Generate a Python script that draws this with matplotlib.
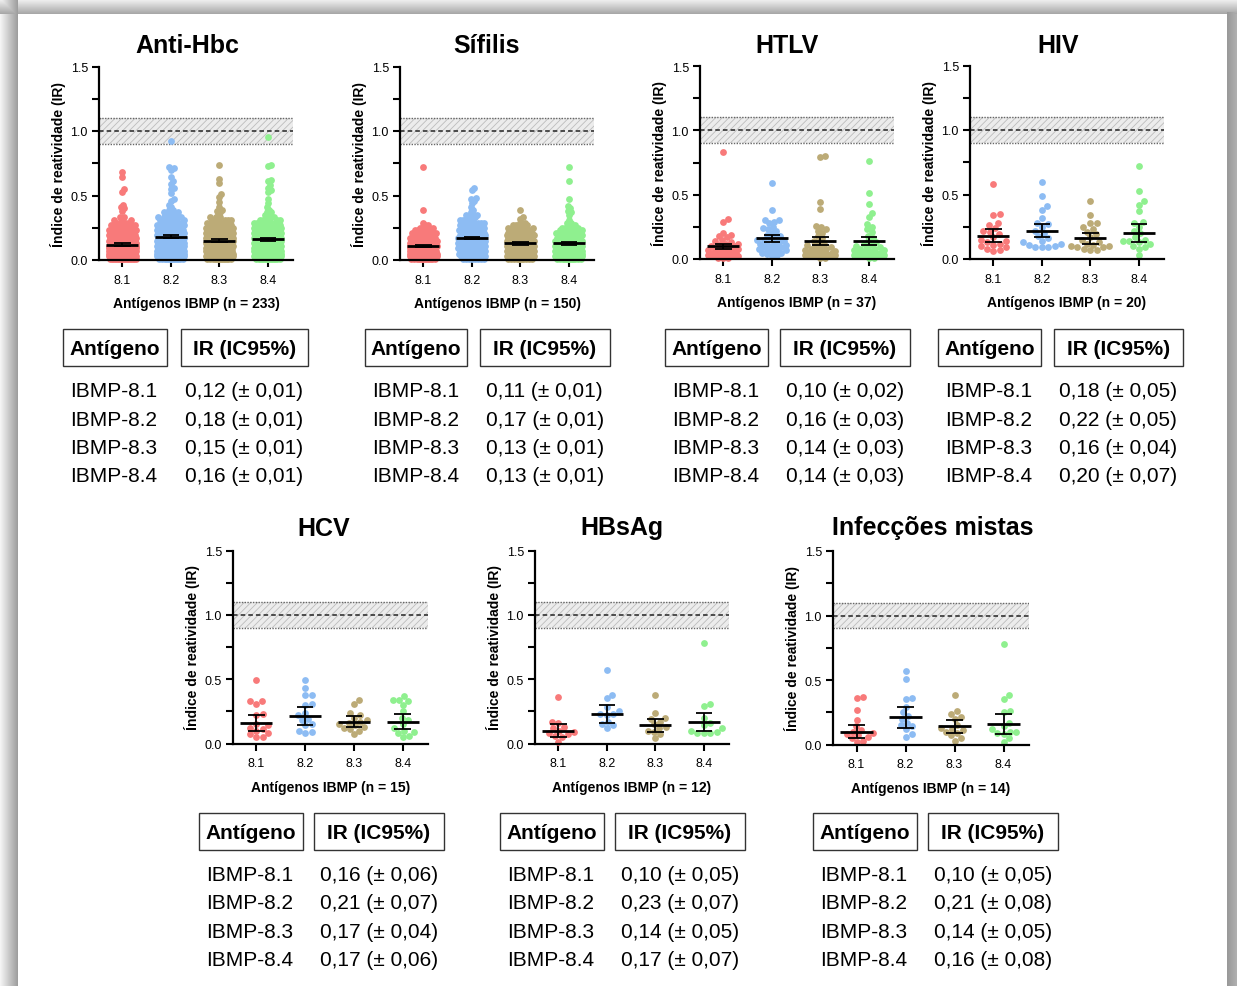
import numpy as np
import matplotlib
matplotlib.use("Agg")
import matplotlib.pyplot as plt
from matplotlib.patches import Rectangle

plt.rcParams['font.family'] = ['Liberation Sans', 'DejaVu Sans']
plt.rcParams['hatch.linewidth'] = 0.6

# ---------------- DATA ----------------
antigens = ['8.1', '8.2', '8.3', '8.4']
row_labels = ['IBMP-8.1', 'IBMP-8.2', 'IBMP-8.3', 'IBMP-8.4']

# Anti-Hbc (n=233): frequency table of the dense part + individual high points
hbc_levels = [0.01, 0.03, 0.05, 0.07, 0.09, 0.11, 0.13, 0.15, 0.17, 0.19, 0.21,
              0.23, 0.25, 0.27, 0.29, 0.31, 0.33, 0.35, 0.37, 0.39, 0.41, 0.43]
hbc_counts_81 = [18, 22, 24, 24, 22, 20, 18, 16, 13, 11, 9, 8, 6, 5, 4, 3, 2, 0, 0, 0, 0, 0]
hbc_counts_82 = [14, 15, 16, 17, 17, 17, 16, 15, 14, 13, 11, 10, 9, 8, 7, 6, 5, 4, 3, 2, 1, 1]
hbc_counts_83 = [14, 17, 19, 20, 20, 19, 18, 16, 15, 13, 11, 10, 9, 7, 6, 5, 3, 1, 0, 0, 0, 0]
hbc_counts_84 = [15, 17, 19, 20, 20, 19, 17, 15, 14, 12, 10, 9, 8, 7, 6, 5, 3, 2, 2, 1, 1, 0]
hbc_high_81 = [0.68, 0.64, 0.55, 0.53, 0.43, 0.41, 0.40, 0.38]
hbc_high_82 = [0.92, 0.72, 0.71, 0.70, 0.64, 0.61, 0.59, 0.56, 0.55, 0.52, 0.47, 0.46]
hbc_high_83 = [0.74, 0.63, 0.60, 0.51, 0.49, 0.45, 0.41, 0.39, 0.38, 0.37]
hbc_high_84 = [0.95, 0.74, 0.73, 0.62, 0.61, 0.58, 0.56, 0.54, 0.53, 0.47, 0.44]

# Sifilis (n=150)
sif_levels = [0.01, 0.03, 0.05, 0.07, 0.09, 0.11, 0.13, 0.15, 0.17, 0.19,
              0.21, 0.23, 0.25, 0.27, 0.29, 0.31, 0.33, 0.35, 0.37]
sif_counts_81 = [14, 16, 17, 17, 16, 14, 12, 11, 9, 7, 5, 4, 3, 2, 1, 0, 0, 0, 0]
sif_counts_82 = [8, 9, 10, 10, 11, 11, 11, 10, 10, 9, 8, 7, 6, 6, 5, 4, 3, 3, 1]
sif_counts_83 = [11, 13, 14, 14, 14, 13, 12, 11, 10, 9, 8, 7, 5, 4, 2, 0, 0, 0, 0]
sif_counts_84 = [13, 15, 15, 15, 14, 13, 11, 10, 9, 7, 6, 5, 4, 2, 2, 1, 0, 0, 0]
sif_high_81 = [0.72, 0.39]
sif_high_82 = [0.56, 0.54, 0.48, 0.47, 0.46, 0.44, 0.41, 0.39]
sif_high_83 = [0.39, 0.33, 0.32]
sif_high_84 = [0.72, 0.61, 0.47, 0.42, 0.40, 0.38, 0.37, 0.35]

# HTLV (n=37)
htlv_81 = [0.83, 0.31, 0.29, 0.20, 0.19, 0.18, 0.17, 0.15, 0.14, 0.13, 0.12, 0.12, 0.11,
           0.10, 0.10, 0.09, 0.09, 0.08, 0.08, 0.07, 0.07, 0.06, 0.06, 0.05, 0.05, 0.05,
           0.04, 0.04, 0.03, 0.03, 0.03, 0.02, 0.02, 0.02, 0.01, 0.01, 0.01]
htlv_82 = [0.59, 0.38, 0.30, 0.30, 0.29, 0.28, 0.25, 0.24, 0.23, 0.22, 0.20, 0.19, 0.18,
           0.17, 0.16, 0.15, 0.15, 0.14, 0.13, 0.13, 0.12, 0.12, 0.11, 0.10, 0.10, 0.09,
           0.09, 0.08, 0.08, 0.07, 0.07, 0.06, 0.05, 0.05, 0.04, 0.03, 0.02]
htlv_83 = [0.80, 0.79, 0.44, 0.39, 0.26, 0.25, 0.23, 0.22, 0.20, 0.18, 0.16, 0.14, 0.13,
           0.12, 0.11, 0.10, 0.09, 0.09, 0.08, 0.08, 0.07, 0.07, 0.06, 0.06, 0.05, 0.05,
           0.05, 0.04, 0.04, 0.03, 0.03, 0.03, 0.02, 0.02, 0.02, 0.01, 0.01]
htlv_84 = [0.76, 0.51, 0.43, 0.36, 0.33, 0.27, 0.25, 0.23, 0.21, 0.18, 0.16, 0.14, 0.13,
           0.12, 0.11, 0.10, 0.09, 0.09, 0.08, 0.08, 0.07, 0.07, 0.06, 0.06, 0.05, 0.05,
           0.04, 0.04, 0.04, 0.03, 0.03, 0.03, 0.02, 0.02, 0.02, 0.01, 0.01]

# HIV (n=20)
hiv_81 = [0.58, 0.35, 0.34, 0.28, 0.26, 0.24, 0.22, 0.21, 0.19, 0.17, 0.15, 0.14, 0.13,
          0.12, 0.11, 0.10, 0.09, 0.08, 0.07, 0.06]
hiv_82 = [0.60, 0.49, 0.41, 0.38, 0.32, 0.28, 0.27, 0.25, 0.22, 0.20, 0.18, 0.16, 0.14,
          0.13, 0.12, 0.11, 0.10, 0.09, 0.09, 0.09]
hiv_83 = [0.45, 0.34, 0.28, 0.28, 0.25, 0.23, 0.21, 0.19, 0.17, 0.15, 0.13, 0.12, 0.11,
          0.10, 0.10, 0.09, 0.09, 0.08, 0.07, 0.07]
hiv_84 = [0.72, 0.53, 0.45, 0.42, 0.37, 0.29, 0.28, 0.25, 0.22, 0.20, 0.17, 0.15, 0.14,
          0.14, 0.13, 0.12, 0.10, 0.09, 0.08, 0.03]

# HCV (n=15)
hcv_81 = [0.49, 0.33, 0.33, 0.31, 0.23, 0.22, 0.15, 0.14, 0.12, 0.11, 0.10, 0.08, 0.07, 0.05, 0.05]
hcv_82 = [0.49, 0.43, 0.38, 0.38, 0.31, 0.30, 0.24, 0.22, 0.19, 0.18, 0.15, 0.14, 0.10, 0.09, 0.08]
hcv_83 = [0.34, 0.31, 0.24, 0.22, 0.20, 0.18, 0.17, 0.16, 0.15, 0.14, 0.13, 0.12, 0.11, 0.10, 0.07]
hcv_84 = [0.37, 0.34, 0.34, 0.33, 0.30, 0.25, 0.20, 0.18, 0.15, 0.12, 0.10, 0.09, 0.08, 0.06, 0.05]

# HBsAg (n=12)
hbs_81 = [0.36, 0.17, 0.16, 0.13, 0.12, 0.10, 0.09, 0.08, 0.07, 0.06, 0.05, 0.01]
hbs_82 = [0.57, 0.38, 0.35, 0.28, 0.25, 0.23, 0.23, 0.22, 0.17, 0.15, 0.14, 0.12]
hbs_83 = [0.38, 0.24, 0.20, 0.19, 0.17, 0.15, 0.13, 0.12, 0.10, 0.09, 0.07, 0.04]
hbs_84 = [0.78, 0.31, 0.29, 0.20, 0.16, 0.14, 0.12, 0.10, 0.09, 0.08, 0.08, 0.08]

# Infeccoes mistas (n=14)
mix_81 = [0.37, 0.36, 0.27, 0.19, 0.14, 0.11, 0.10, 0.09, 0.08, 0.07, 0.06, 0.05, 0.03, 0.02]
mix_82 = [0.57, 0.51, 0.36, 0.35, 0.29, 0.25, 0.22, 0.20, 0.17, 0.15, 0.14, 0.12, 0.08, 0.06]
mix_83 = [0.38, 0.26, 0.24, 0.21, 0.20, 0.15, 0.13, 0.12, 0.11, 0.10, 0.09, 0.07, 0.05, 0.03]
mix_84 = [0.78, 0.38, 0.35, 0.26, 0.25, 0.17, 0.14, 0.12, 0.10, 0.10, 0.09, 0.08, 0.05, 0.02]

# Means and 95% CI (tables)
hbc_mean = [0.12, 0.18, 0.15, 0.16]; hbc_ci = [0.01, 0.01, 0.01, 0.01]
sif_mean = [0.11, 0.17, 0.13, 0.13]; sif_ci = [0.01, 0.01, 0.01, 0.01]
htlv_mean = [0.10, 0.16, 0.14, 0.14]; htlv_ci = [0.02, 0.03, 0.03, 0.03]
hiv_mean = [0.18, 0.22, 0.16, 0.20]; hiv_ci = [0.05, 0.05, 0.04, 0.07]
hcv_mean = [0.16, 0.21, 0.17, 0.17]; hcv_ci = [0.06, 0.07, 0.04, 0.06]
hbs_mean = [0.10, 0.23, 0.14, 0.17]; hbs_ci = [0.05, 0.07, 0.05, 0.07]
mix_mean = [0.10, 0.21, 0.14, 0.16]; mix_ci = [0.05, 0.08, 0.05, 0.08]

titles = ['Anti-Hbc', 'Sífilis', 'HTLV', 'HIV', 'HCV', 'HBsAg', 'Infecções mistas']
n_values = [233, 150, 37, 20, 15, 12, 14]

colors = ['#f87a7a', '#8dbcf3', '#bcab77', '#8ff08f']


def expand(levels, counts, high):
    return np.concatenate([np.repeat(levels, counts), high])


groups = [
    [expand(hbc_levels, hbc_counts_81, hbc_high_81), expand(hbc_levels, hbc_counts_82, hbc_high_82),
     expand(hbc_levels, hbc_counts_83, hbc_high_83), expand(hbc_levels, hbc_counts_84, hbc_high_84)],
    [expand(sif_levels, sif_counts_81, sif_high_81), expand(sif_levels, sif_counts_82, sif_high_82),
     expand(sif_levels, sif_counts_83, sif_high_83), expand(sif_levels, sif_counts_84, sif_high_84)],
    [htlv_81, htlv_82, htlv_83, htlv_84],
    [hiv_81, hiv_82, hiv_83, hiv_84],
    [hcv_81, hcv_82, hcv_83, hcv_84],
    [hbs_81, hbs_82, hbs_83, hbs_84],
    [mix_81, mix_82, mix_83, mix_84],
]
means = [hbc_mean, sif_mean, htlv_mean, hiv_mean, hcv_mean, hbs_mean, mix_mean]
cis = [hbc_ci, sif_ci, htlv_ci, hiv_ci, hcv_ci, hbs_ci, mix_ci]

# ---------------- LAYOUT (pixels) ----------------
W, H = 1237, 987
axes_px = [(99, 293, 67.5, 261), (400, 594, 67.5, 261), (700, 894, 67, 260), (970, 1164, 66.5, 260),
           (233, 428, 551.5, 744.5), (535, 729, 551.5, 744.5), (833, 1029, 552, 745.5)]
title_px = [(187, 53), (487, 53), (787, 53), (1058, 53), (324, 536), (622, 535), (933, 535)]
# box1 x0,x1, box2 x0,x1, box y0,y1, col1 x, col2 x, first row baseline
table_px = [(63, 167, 181, 308, 330, 367, 70, 185, 397),
            (365, 467, 480, 610, 330, 367, 372, 486, 397),
            (665, 768, 780, 910, 330, 367, 672, 786, 397),
            (938, 1041, 1054, 1183, 330, 367, 945, 1059, 397),
            (199, 303, 314, 444, 814, 851, 206, 320, 881),
            (500, 604, 615, 745, 814, 851, 507, 621, 881),
            (813, 917, 928, 1058, 814, 851, 820, 934, 881)]
row_step = 28.5
XLIM = (-0.48, 3.52)
YLIM = (0.0, 1.5)

fig = plt.figure(figsize=(W / 100, H / 100), dpi=100)

# page frame with shadow
bg = fig.add_axes([0, 0, 1, 1])
xx = np.arange(W)[None, :].repeat(H, 0).astype(float)
yy = np.arange(H)[:, None].repeat(W, 1).astype(float)
left = np.where(xx < 18, 0.96 - 0.34 * (xx / 17.0), 1.0)
top = np.where(yy < 15, 0.95 - 0.29 * (yy / 14.0), 1.0)
right = np.where((xx >= 1227) & (yy >= 13), 0.60 + 0.10 * ((xx - 1227) / 10.0), 1.0)
img = np.minimum(np.minimum(left, top), right)
bg.imshow(np.dstack([img, img, img]), extent=[0, W, H, 0], aspect='auto', interpolation='nearest')
bg.set_xlim(0, W); bg.set_ylim(H, 0)
bg.axis('off')


def fx(x):
    return x / W


def fy(y):
    return 1 - y / H


def swarm_offsets(vals, ppx, ppy, d, wmax, step=0.5):
    vals = np.asarray(vals, float)
    n = len(vals)
    order = np.argsort(vals, kind='stable')
    ys = vals * ppy
    k = int(wmax / step)
    cands = [0.0]
    for j in range(1, k + 1):
        cands += [j * step, -j * step]
    cands = np.array(cands)
    off = np.zeros(n)
    px, py = [], []
    for idx in order:
        y = ys[idx]
        c = 0.0
        if px:
            PX = np.array(px); PY = np.array(py)
            m = np.abs(PY - y) < d
            if m.any():
                dx = cands[:, None] - PX[m][None, :]
                dy = y - PY[m]
                mind = (dx ** 2 + dy[None, :] ** 2).min(axis=1)
                ok = np.nonzero(mind >= d * d)[0]
                c = cands[ok[0]] if len(ok) else cands[np.argmax(mind)]
        off[idx] = c
        px.append(c); py.append(y)
    return off / ppx


for p in range(7):
    l, r, t, b = axes_px[p]
    ax = fig.add_axes([fx(l), fy(b), fx(r - l), (b - t) / H])
    ax.set_xlim(*XLIM); ax.set_ylim(*YLIM)
    ppx = (r - l) / (XLIM[1] - XLIM[0])
    ppy = (b - t) / (YLIM[1] - YLIM[0])

    # gray zone
    ax.axhspan(0.9, 1.1, facecolor='#ececec', edgecolor='#bdbdbd', hatch='/////', linewidth=0, zorder=0)
    ax.axhline(0.9, color='#666666', lw=1.0, ls=(0, (1, 1)), zorder=1)
    ax.axhline(1.1, color='#666666', lw=1.0, ls=(0, (1, 1)), zorder=1)
    ax.axhline(1.0, color='#222222', lw=1.1, ls=(0, (3, 2)), zorder=1)

    n = n_values[p]
    if n > 100:
        d, wmax = 3.0, 13.5
    elif n > 30:
        d, wmax = 5.0, 15
    else:
        d, wmax = 6.2, 22
    for i, vals in enumerate(groups[p]):
        vals = np.asarray(vals, float)
        off = swarm_offsets(vals, ppx, ppy, d, wmax)
        ax.scatter(i + off, vals, s=24, color=colors[i], linewidths=0, zorder=2, clip_on=False)
        m, c = means[p][i], cis[p][i]
        ax.hlines(m, i - 0.33, i + 0.33, color='black', lw=2.0, zorder=4)
        ax.vlines(i, m - c, m + c, color='black', lw=1.3, zorder=4)
        ax.hlines([m - c, m + c], i - 0.17, i + 0.17, color='black', lw=1.3, zorder=4)

    for s in ['top', 'right']:
        ax.spines[s].set_visible(False)
    for s in ['left', 'bottom']:
        ax.spines[s].set_linewidth(1.6)
    ax.set_yticks([0, 0.5, 1.0, 1.5])
    ax.set_yticklabels(['0.0', '0.5', '1.0', '1.5'])
    ax.set_yticks([0.25, 0.75, 1.25], minor=True)
    ax.set_xticks(range(4))
    ax.set_xticklabels(antigens)
    ax.tick_params(axis='both', which='both', direction='out', length=5, width=1.5,
                   labelsize=9, colors='black')
    ax.tick_params(axis='x', pad=5)
    ax.tick_params(axis='y', pad=3)
    ax.patch.set_alpha(0)

    ax.text(-41.0 / (r - l), 0.5, 'Índice de reatividade (IR)', rotation=90, ha='center', va='center',
            fontsize=10, fontweight='bold', transform=ax.transAxes)
    ax.text(0.5, -47.5 / (b - t), f'Antígenos IBMP (n = {n})', ha='center', va='baseline',
            fontsize=10, fontweight='bold', transform=ax.transAxes)

    tx, ty = title_px[p]
    fig.text(fx(tx), fy(ty), titles[p], ha='center', va='baseline', fontsize=18, fontweight='bold')

    # table
    b1x0, b1x1, b2x0, b2x1, by0, by1, c1x, c2x, rb = table_px[p]
    for (x0, x1, lab) in [(b1x0, b1x1, 'Antígeno'), (b2x0, b2x1, 'IR (IC95%)')]:
        fig.patches.append(Rectangle((fx(x0), fy(by1)), fx(x1 - x0), (by1 - by0) / H,
                                     transform=fig.transFigure, fill=False, edgecolor='#333333', lw=1.0))
        fig.text(fx((x0 + x1) / 2), fy(by1 - 12), lab, ha='center', va='baseline',
                 fontsize=15, fontweight='bold')
    for i in range(4):
        yb = rb + i * row_step
        fig.text(fx(c1x), fy(yb), row_labels[i], ha='left', va='baseline', fontsize=15)
        txt = f'{means[p][i]:.2f} (± {cis[p][i]:.2f})'.replace('.', ',')
        fig.text(fx(c2x), fy(yb), txt, ha='left', va='baseline', fontsize=15)

fig.savefig('out.png', dpi=100)
